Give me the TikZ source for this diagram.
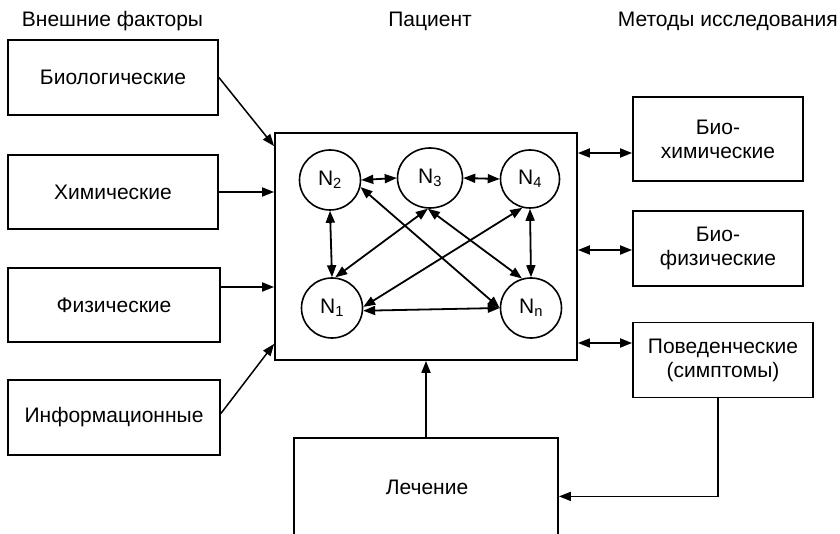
\documentclass[tikz,border=0pt]{standalone}
\usepackage{fontspec}
\setmainfont{Liberation Sans}
\usetikzlibrary{arrows.meta,calc,shapes.geometric}
\newcommand{\fsz}{\fontsize{21}{24}\selectfont}
\begin{document}
\begin{tikzpicture}[x=1pt,y=-1pt,
  every node/.style={font=\fsz, inner sep=0pt},
  box/.style={draw, line width=1.8pt, align=center},
  nd/.style={draw, ellipse, line width=1.6pt, minimum width=61pt, minimum height=60pt},
  tip/.tip={Triangle[length=12pt,width=9pt]},
  one/.style={line width=1.8pt, -tip},
  two/.style={line width=1.8pt, tip-tip},
  thin1/.style={line width=1.5pt, -tip}]
\useasboundingbox (0,0) rectangle (840,534);
\clip (0,0) rectangle (840,534);
% headers
\node[anchor=base] (h1) at (112.5,27) {Внешние факторы};
\node[anchor=base] (h2) at (430,27) {Пациент};
\node[anchor=base east] (h3) at (838,27) {Методы исследования};
% left boxes
\node[box, minimum width=210pt, minimum height=75pt] (bio) at (113,77.5) {Биологические};
\node[box, minimum width=210pt, minimum height=74pt] (xim) at (113,192) {Химические};
\node[box, minimum width=212pt, minimum height=74pt] (fiz) at (114,305) {Физические};
\node[box, minimum width=212pt, minimum height=75pt] (inf) at (114,417.5) {Информационные};
% patient
\node[box, minimum width=302pt, minimum height=227pt] (pat) at (426,246.5) {};
% right boxes
\node[box, minimum width=170pt, minimum height=84pt] (bh) at (718,139) {Био-\\химические};
\node[box, minimum width=170pt, minimum height=75pt] (bf) at (718,248.5) {Био-\\физические};
\node[box, minimum width=180pt, minimum height=75pt] (pov) at (723,360) {Поведенческие\\(симптомы)};
% treatment
\node[box, minimum width=264pt, minimum height=140pt] (lech) at (426,508) {};
\node (lecht) at (427,487) {Лечение};
% network nodes
\node[nd] (n2) at (330,180) {N\textsubscript{2}};
\node[nd, minimum width=65pt] (n3) at (430,178) {N\textsubscript{3}};
\node[nd, minimum width=59pt, minimum height=58pt] (n4) at (530,179) {N\textsubscript{4}};
\node[nd] (n1) at (332,308) {N\textsubscript{1}};
\node[nd] (nn) at (531,308) {N\textsubscript{n}};
% helper coordinates
\coordinate (bioin) at ($(pat.north west)+(0,14)$);
\coordinate (fizout) at ($(fiz.east)+(0,-18)$);
\coordinate (fizin) at (pat.west |- fizout);
\coordinate (infout) at ($(inf.east)+(0,-4)$);
\coordinate (infin) at ($(pat.south west)+(0,-17)$);
\coordinate (bhin) at ($(bh.west)+(0,14)$);
\coordinate (bhout) at (pat.east |- bhin);
\coordinate (bfin) at ($(bf.west)+(0,1.5)$);
\coordinate (bfout) at (pat.east |- bfin);
\coordinate (povin) at ($(pov.west)+(0,-17)$);
\coordinate (povout) at (pat.east |- povin);
\coordinate (pb) at ($(pov.south)+(-5,0)$);
\coordinate (pcorner) at ($(pb)+(0,98)$);
\coordinate (lechin) at (lech.east |- pcorner);
% inputs
\draw[thin1] (bio.east) -- (bioin);
\draw[one] (xim.east) -- (xim.east -| pat.west);
\draw[one] (fizout) -- (fizin);
\draw[thin1] (infout) -- (infin);
% outputs
\draw[two] (bhout) -- (bhin);
\draw[two] (bfout) -- (bfin);
\draw[two] (povout) -- (povin);
% treatment loop
\draw[one] (lech.north) -- (lech.north |- pat.south);
\draw[one] (pb) -- (pcorner) -- (lechin);
% network arrows
\draw[two] (n2.east) -- (n3.west);
\draw[two] (n3.east) -- (n4.west);
\draw[two] (n2.south) -- (n1.north);
\draw[two] (n4.south) -- (nn.north);
\draw[two] (n3.266) -- (n1.84);
\draw[two] (n4.255) -- (n1.2);
\draw[two] (n2.-13) -- (nn.west);
\draw[two] (n3.-94) -- (nn.107);
\draw[two] (n1.-5) -- (nn.west);
\end{tikzpicture}
\end{document}
